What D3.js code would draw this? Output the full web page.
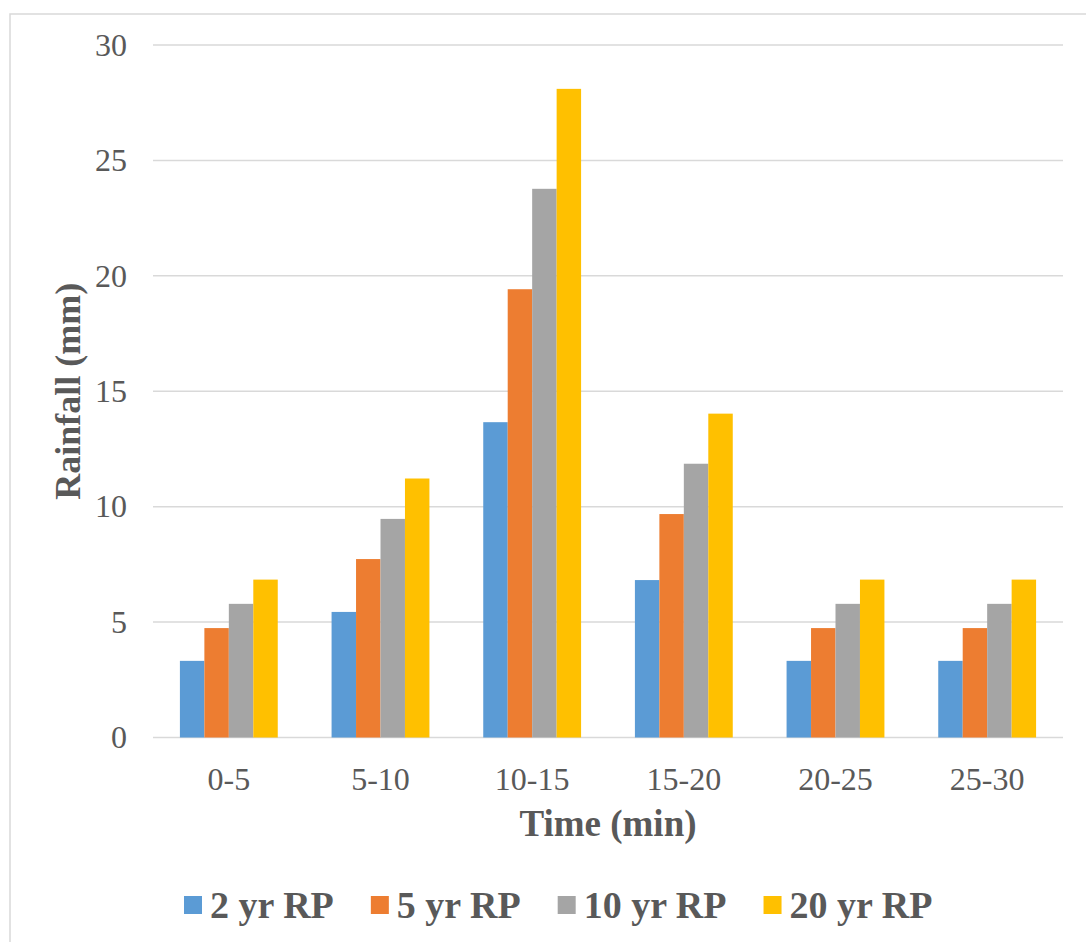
<!DOCTYPE html>
<html>
<head>
<meta charset="utf-8">
<script src="https://cdn.jsdelivr.net/npm/d3@7"></script>
<style>
  html, body { margin: 0; padding: 0; background: #fff; }
  svg { display: block; }
  text { font-family: "Times New Roman", "Liberation Serif", serif; fill: #595959; }
</style>
</head>
<body>
<svg id="chart" width="1086" height="942"></svg>
<script>
// Rainfall depth per 5-minute interval for each return period
const categories = ["0-5", "5-10", "10-15", "15-20", "20-25", "25-30"];
const rp2  = [3.32, 5.44, 13.66, 6.82, 3.32, 3.32];
const rp5  = [4.74, 7.73, 19.42, 9.68, 4.74, 4.74];
const rp10 = [5.79, 9.47, 23.77, 11.86, 5.79, 5.79];
const rp20 = [6.84, 11.22, 28.10, 14.03, 6.84, 6.84];
const seriesNames = ["2 yr RP", "5 yr RP", "10 yr RP", "20 yr RP"];
const seriesColors = ["#5b9bd5", "#ed7d31", "#a5a5a5", "#ffc000"];
const yTicks = [0, 5, 10, 15, 20, 25, 30];

const seriesValues = [rp2, rp5, rp10, rp20];

const svg = d3.select("#chart");

// chart area frame
svg.append("rect")
  .attr("x", 10).attr("y", 14)
  .attr("width", 1200).attr("height", 1100)
  .attr("fill", "#fff")
  .attr("stroke", "#d9d9d9").attr("stroke-width", 1.5);

const plot = { left: 153, right: 1063, top: 45, bottom: 737.5 };

const x0 = d3.scaleBand().domain(categories).range([plot.left, plot.right]).padding(0);
const x1 = d3.scaleBand().domain(seriesNames).range([0, x0.bandwidth()])
  .paddingInner(0).paddingOuter(1.1);
const y = d3.scaleLinear().domain([0, 30]).range([plot.bottom, plot.top]);

// gridlines
svg.append("g")
  .selectAll("line")
  .data(yTicks)
  .join("line")
  .attr("x1", plot.left).attr("x2", plot.right)
  .attr("y1", d => y(d)).attr("y2", d => y(d))
  .attr("stroke", "#d9d9d9").attr("stroke-width", 1.5);

// y axis labels
const yAxis = d3.axisLeft(y).tickValues(yTicks).tickSize(0).tickPadding(0);
const gy = svg.append("g").attr("transform", `translate(127,0)`).call(yAxis);
gy.select(".domain").remove();
gy.selectAll("text")
  .attr("font-size", 32)
  .attr("fill", "#595959")
  .attr("font-family", "'Times New Roman', 'Liberation Serif', serif");

// bars
const groups = svg.append("g")
  .selectAll("g")
  .data(categories)
  .join("g")
  .attr("transform", d => `translate(${x0(d)},0)`);

groups.selectAll("rect")
  .data((c, i) => seriesNames.map((s, k) => ({ s, k, v: seriesValues[k][i] })))
  .join("rect")
  .attr("x", d => x1(d.s))
  .attr("width", x1.bandwidth())
  .attr("y", d => y(d.v))
  .attr("height", d => y(0) - y(d.v))
  .attr("fill", d => seriesColors[d.k]);

// x axis labels
const xAxis = d3.axisBottom(x0).tickSize(0).tickPadding(0);
const gx = svg.append("g").attr("transform", `translate(0,${plot.bottom})`).call(xAxis);
gx.select(".domain").remove();
gx.selectAll("text")
  .attr("dy", null)
  .attr("y", 52)
  .attr("font-size", 32)
  .attr("fill", "#595959")
  .attr("font-family", "'Times New Roman', 'Liberation Serif', serif");

// axis titles
svg.append("text")
  .attr("x", (plot.left + plot.right) / 2)
  .attr("y", 836)
  .attr("text-anchor", "middle")
  .attr("font-size", 37)
  .attr("font-weight", "bold")
  .text("Time (min)");

svg.append("text")
  .attr("transform", `translate(80,${(plot.top + plot.bottom) / 2}) rotate(-90)`)
  .attr("text-anchor", "middle")
  .attr("font-size", 36)
  .attr("font-weight", "bold")
  .text("Rainfall (mm)");

// legend
const legend = svg.append("g");
let lx = 184;
seriesNames.forEach((name, k) => {
  legend.append("rect")
    .attr("x", lx).attr("y", 896)
    .attr("width", 18).attr("height", 18)
    .attr("fill", seriesColors[k]);
  const t = legend.append("text")
    .attr("x", lx + 26).attr("y", 918)
    .attr("font-size", 38)
    .attr("font-weight", "bold")
    .text(name);
  lx += 26 + t.node().getComputedTextLength() + 37;
});
</script>
</body>
</html>
